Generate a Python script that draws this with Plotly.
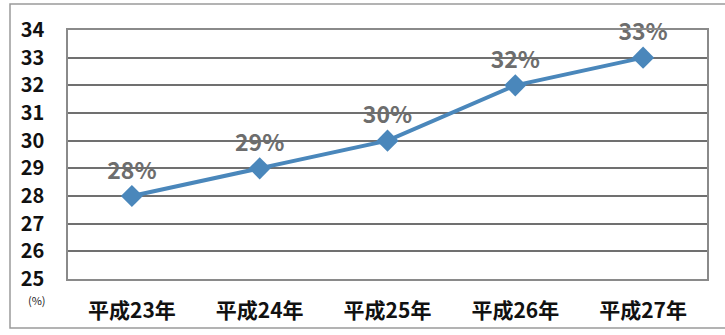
import plotly.graph_objects as go

years = ["平成23年", "平成24年", "平成25年", "平成26年", "平成27年"]
rates = [28, 29, 30, 32, 33]
labels = [f"{v}%" for v in rates]
y_ticks = list(range(25, 35))

fig = go.Figure()
fig.add_trace(go.Scatter(
    x=years, y=rates,
    mode="lines+markers+text",
    line=dict(color="#4a87bb", width=4),
    marker=dict(symbol="diamond", size=17, color="#4a87bb"),
    text=labels, textposition="top center",
    textfont=dict(family="Noto Sans CJK JP", size=23, color="#6d6d6d", weight="bold"),
    cliponaxis=False,
))

plot_w = 725 - 68 - 18
plot_h = 335 - 30 - 56

fig.update_layout(
    width=725, height=335,
    margin=dict(l=68, r=18, t=30, b=56),
    paper_bgcolor="white", plot_bgcolor="white",
    showlegend=False,
    font=dict(family="Noto Sans CJK JP", color="#111111"),
    xaxis=dict(
        showgrid=False, showline=True, mirror=True, linecolor="#8a8a8a", linewidth=1.5,
        ticks="", ticklabelstandoff=12, tickfont=dict(size=21, weight="bold"),
        range=[-0.5, 4.5],
    ),
    yaxis=dict(
        range=[25, 34], tickvals=y_ticks, showgrid=True, gridcolor="#707070", gridwidth=1.6,
        showline=True, mirror=True, linecolor="#8a8a8a", linewidth=1.5,
        ticks="", ticklabelstandoff=18, tickfont=dict(size=20, weight="bold"),
        zeroline=False,
    ),
    annotations=[dict(
        text="(%)", x=(37 - 68) / plot_w, y=(335 - 56 - 300) / plot_h,
        xref="paper", yref="paper", xanchor="center", yanchor="middle", showarrow=False,
        font=dict(size=11, color="#222222"),
    )],
    shapes=[dict(
        type="rect", xref="paper", yref="paper",
        x0=(10 - 68) / plot_w, x1=1.2,
        y0=(279 - 328) / plot_h, y1=1 + (30 - 4) / plot_h,
        line=dict(color="#9a9a9a", width=1.5),
    )],
)

fig.write_html("out.html")
